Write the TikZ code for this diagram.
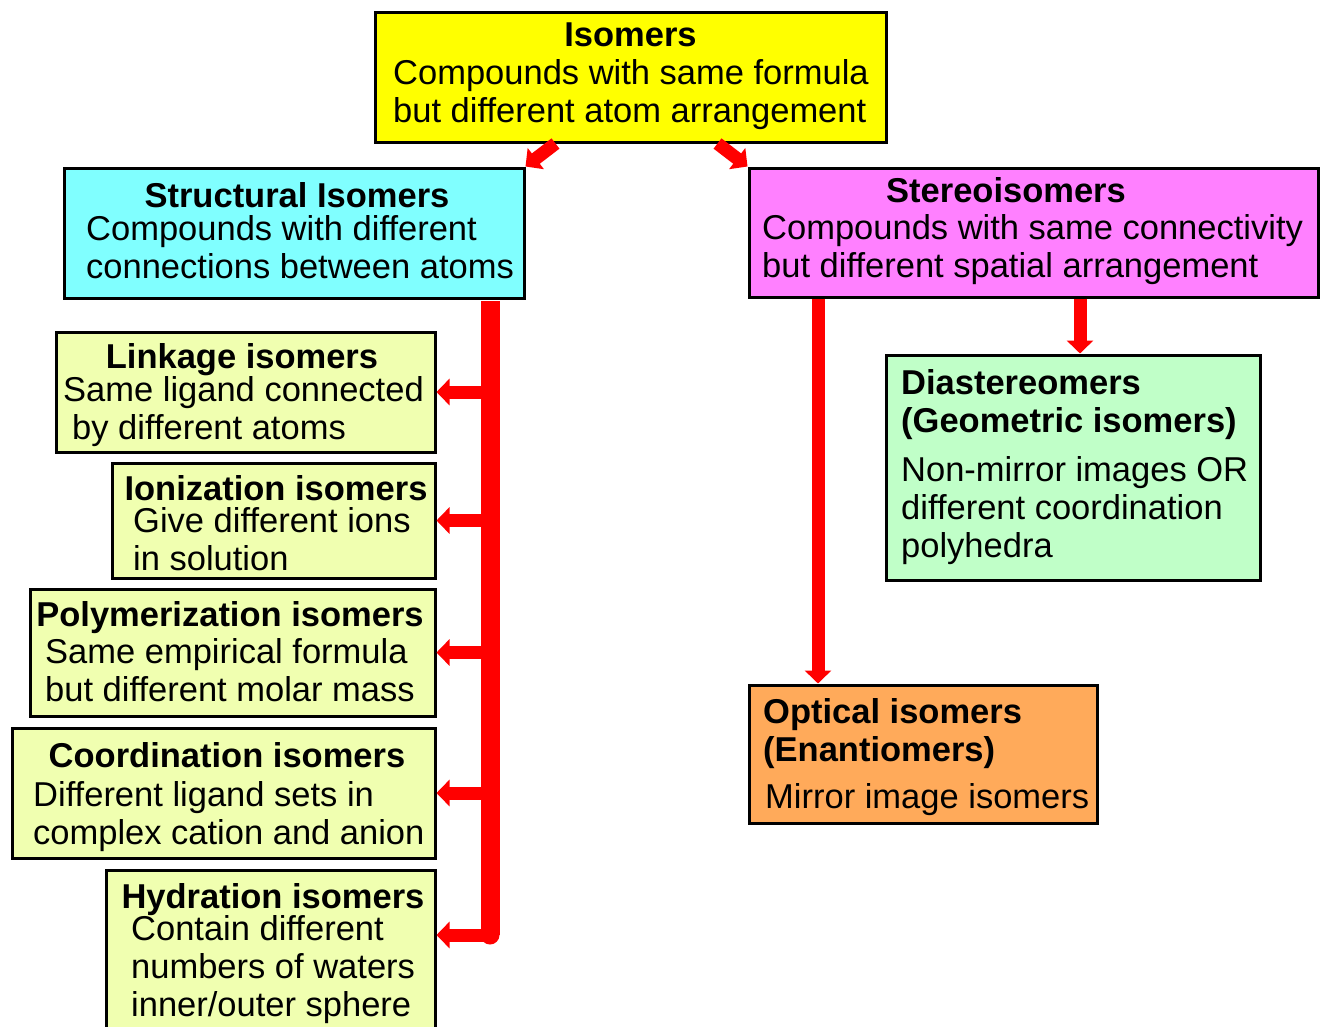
\documentclass[tikz,border=0pt]{standalone}
\usepackage{fontspec}
\setmainfont{Liberation Sans}
\usetikzlibrary{arrows.meta,positioning}

\definecolor{isoyellow}{HTML}{FFFF00}
\definecolor{structcyan}{HTML}{80FFFF}
\definecolor{stereopink}{HTML}{FF80FF}
\definecolor{subyellow}{HTML}{F0FFB0}
\definecolor{diagreen}{HTML}{C0FFC8}
\definecolor{optorange}{HTML}{FFAA5A}
\definecolor{isored}{HTML}{FF0000}

\tikzset{
  box/.style={draw=black, line width=3pt, inner sep=0pt},
  txt/.style={inner sep=0pt, anchor=base west, align=left,
    font=\fontsize{34.5}{38}\selectfont},
  ttl/.style={txt, anchor=base, font=\fontsize{34.5}{38}\selectfont\bfseries},
  ttlw/.style={ttl, anchor=base west},
  arr/.style={draw=isored, line width=13pt, -{Triangle[length=13pt,width=26pt]}},
}

\begin{document}
\begin{tikzpicture}[x=1pt,y=-1pt]
\useasboundingbox (0,0) rectangle (1320,1026);
% boxes
\node [box, fill=isoyellow, minimum width=511, minimum height=130] (iso) at (630.5,77) {};
\node [box, fill=structcyan, minimum width=460, minimum height=130] (struct) at (294,233) {};
\node [box, fill=stereopink, minimum width=569, minimum height=129] (stereo) at (1033.5,232.5) {};
\node [box, fill=subyellow, minimum width=379, minimum height=120] (link) at (245.5,392) {};
\node [box, fill=subyellow, minimum width=323, minimum height=115] (ion) at (273.5,520.5) {};
\node [box, fill=subyellow, minimum width=405, minimum height=127] (poly) at (232.5,652.5) {};
\node [box, fill=subyellow, minimum width=423, minimum height=130] (coord) at (223.5,793) {};
\node [box, fill=subyellow, minimum width=329, minimum height=160] (hyd) at (270.5,950) {};
\node [box, fill=diagreen, minimum width=374, minimum height=225] (dia) at (1073,467.5) {};
\node [box, fill=optorange, minimum width=348, minimum height=138] (opt) at (923,754) {};
% texts (base = last line)
\node [ttl] (isottl) at (630.5,46) {Isomers};
\node [txt] (isotxt) at (393,122) {Compounds with same formula\\but different atom arrangement};
\node [ttl] (structttl) at (297,207) {Structural Isomers};
\node [txt] (structtxt) at (86,278) {Compounds with different\\connections between atoms};
\node [ttl] (stereottl) at (1006,202) {Stereoisomers};
\node [txt] (stereotxt) at (762,277) {Compounds with same connectivity\\but different spatial arrangement};
\node [ttl] (linkttl) at (242,368) {Linkage isomers};
\node [txt] (linktxta) at (63,401) {Same ligand connected};
\node [txt] (linktxtb) at (72,439) {by different atoms};
\node [ttl] (ionttl) at (276,500) {Ionization isomers};
\node [txt] (iontxt) at (133,570) {Give different ions\\in solution};
\node [ttl] (polyttl) at (230,626) {Polymerization isomers};
\node [txt] (polytxt) at (45,701) {Same empirical formula\\but different molar mass};
\node [ttl] (coordttl) at (227,767) {Coordination isomers};
\node [txt] (coordtxt) at (33,844) {Different ligand sets in\\complex cation and anion};
\node [ttl] (hydttl) at (273,908) {Hydration isomers};
\node [txt] (hydtxt) at (131,1016) {Contain different\\numbers of waters\\inner/outer sphere};
\node [ttlw] (diattl) at (901,432) {Diastereomers\\(Geometric isomers)};
\node [txt] (diatxt) at (901,557) {Non-mirror images OR\\different coordination\\polyhedra};
\node [ttlw] (optttl) at (763,761) {Optical isomers\\(Enantiomers)};
\node [txt] (opttxt) at (765,808) {Mirror image isomers};
% arrows
\coordinate (trunk) at (490,0);
\coordinate (optx) at (818,0);
\draw [arr] ([xshift=-75pt]iso.south) -- (struct.north east);
\draw [arr] ([xshift=87pt]iso.south) -- (stereo.north west);
\draw [isored, line width=19pt] ([yshift=-1.5pt]struct.south -| trunk) -- (trunk |- 0,935);
\fill [isored] (trunk |- 0,935) circle (9.5pt);
\draw [arr] (trunk |- link.east) -- (link.east);
\draw [arr] (trunk |- ion.east) -- (ion.east);
\draw [arr] (trunk |- poly.east) -- (poly.east);
\draw [arr] (trunk |- coord.east) -- (coord.east);
\draw [arr] (trunk |- 0,935) -- (hyd.east |- 0,935);
\draw [arr] (stereo.south -| optx) -- (opt.north -| optx);
\draw [arr] (stereo.south -| 1080,0) -- (dia.north -| 1080,0);
\end{tikzpicture}
\end{document}
